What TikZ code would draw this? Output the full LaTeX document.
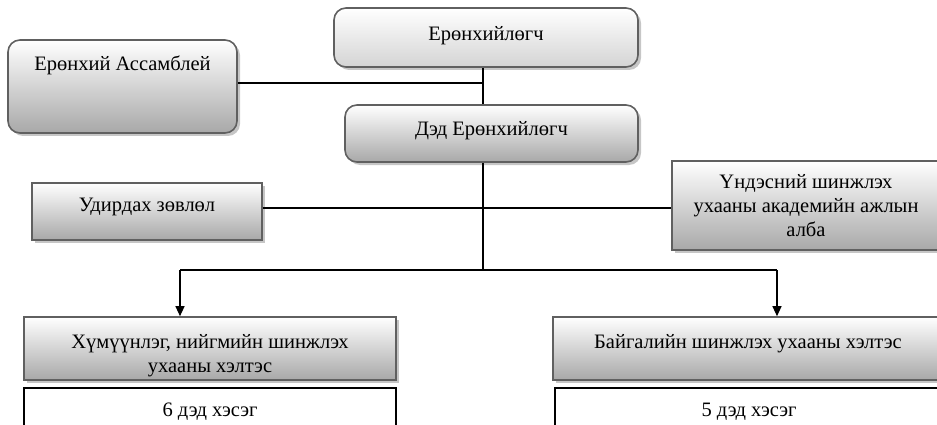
\documentclass[tikz,border=0pt]{standalone}
\usepackage{fontspec}
\setmainfont{Liberation Serif}
\usepackage{tikz}
\usetikzlibrary{
  positioning,
  arrows.meta,
  shadows
}
\definecolor{boxedge}{RGB}{96, 96, 96}
\definecolor{boxlow}{RGB}{168, 168, 168}
\definecolor{boxlight}{RGB}{212, 212, 212}
\tikzset{
  unit/.style={
    draw=boxedge, line width=1.6pt,
    top color=white, bottom color=boxlow,
    drop shadow={shadow xshift=3pt, shadow yshift=-3pt, fill=gray!45, opacity=1},
    font=\fontsize{20.5}{24}\selectfont,
    align=center, inner sep=2pt
  },
  roundunit/.style={unit, rounded corners=12pt},
  subunit/.style={
    draw=black, line width=1.2pt, fill=white,
    font=\fontsize{20.5}{24}\selectfont,
    align=center
  },
  link/.style={line width=1.2pt, black},
  arrow/.style={-{Triangle[length=10pt, width=9pt]}, line width=1.2pt, black}
}

\begin{document}
\begin{tikzpicture}[x=1pt, y=-1pt]
\useasboundingbox (0,0) rectangle (937,425);

% top of the chart
\node[roundunit, bottom color=boxlight, minimum width=304pt, minimum height=59pt, text depth=9pt] (pres) at (486, 37.5) {Ерөнхийлөгч};
\node[roundunit, minimum width=229pt, minimum height=93pt, text depth=46pt] (assembly) at (122.5, 86.5) {Ерөнхий Ассамблей};
\node[roundunit, minimum width=293pt, minimum height=57pt, text depth=10pt] (deputy) at (491.5, 133.5) {Дэд Ерөнхийлөгч};

% side units
\node[unit, minimum width=230pt, minimum height=57pt, text depth=14pt] (council) at (147, 211.5) {Удирдах зөвлөл};
\node[unit, minimum width=268pt, minimum height=89pt] (academy) at (806, 205.5) {Үндэсний шинжлэх\\ухааны академийн ажлын\\алба};

% departments
\node[unit, minimum width=372pt, minimum height=63pt, text height=52pt] (hum) at (210, 348.5) {Хүмүүнлэг, нийгмийн шинжлэх\\ухааны хэлтэс};
\node[unit, minimum width=390pt, minimum height=63pt, text depth=14pt] (nat) at (748, 348.5) {Байгалийн шинжлэх ухааны хэлтэс};
\node[subunit, minimum width=372pt, minimum height=48pt] (humsub) at (210, 412) {6 дэд хэсэг};
\node[subunit, minimum width=388pt, minimum height=48pt] (natsub) at (749, 412) {5 дэд хэсэг};

% connectors
\coordinate (spine) at (483, 83);
\coordinate (mid) at (483, 208);
\coordinate (fork) at (483, 270);
\coordinate (forkl) at (180, 270);
\coordinate (forkr) at (777, 270);
\draw[link] (pres.south -| spine) -- (deputy.north -| spine);
\draw[link] (assembly.east |- spine) -- (spine);
\draw[link] (deputy.south -| fork) -- (fork);
\draw[link] (council.east |- mid) -- (academy.west |- mid);
\draw[link] (forkl) -- (forkr);
\draw[arrow] (forkl) -- (forkl |- hum.north);
\draw[arrow] (forkr) -- (forkr |- nat.north);

\end{tikzpicture}
\end{document}
